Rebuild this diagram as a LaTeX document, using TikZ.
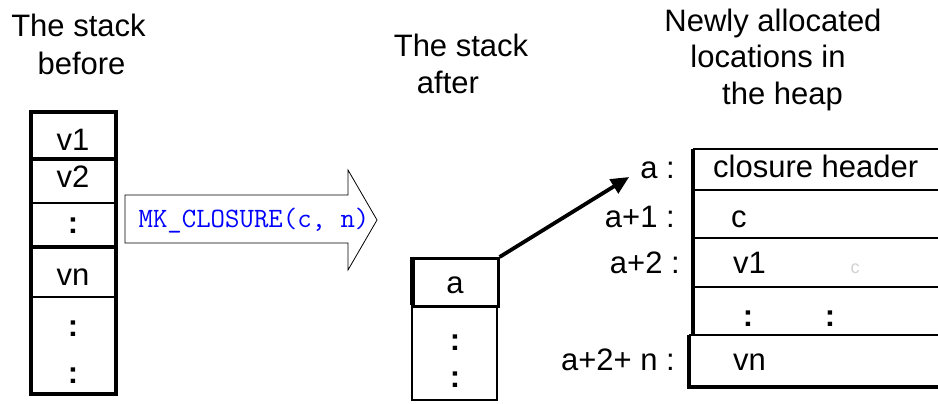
\documentclass[tikz,border=0pt]{standalone}
\usepackage{fontspec}
\setmainfont{Liberation Sans}
\usetikzlibrary{arrows.meta,calc}
\begin{document}
\begin{tikzpicture}[x=1pt,y=-1pt,
  txt/.style={inner sep=0pt,font=\fontsize{31}{37}\selectfont},
  dots/.style={inner sep=0pt,font=\bfseries\fontsize{31}{37}\selectfont},
  thick line/.style={line width=3.4pt},
  mid line/.style={line width=2.6pt},
  arr/.style={line width=3.8pt,-{Triangle[length=18pt,width=16pt]}},
  callout/.style={draw=black,line width=0.8pt,fill=white},
  macro/.style={inner sep=0pt,text=blue,font=\ttfamily\fontsize{28}{32}\selectfont}]
\useasboundingbox (0,0) rectangle (938,404);
% titles
\node[txt,anchor=base] (t1a) at (78.5,37) {The stack};
\node[txt,anchor=base] (t1b) at (81.5,75) {before};
\node[txt,anchor=base] (t2a) at (461,57) {The stack};
\node[txt,anchor=base] (t2b) at (448,93) {after};
\node[txt,anchor=base] (t3a) at (773,32) {Newly allocated};
\node[txt,anchor=base] (t3b) at (768,68) {locations in};
\node[txt,anchor=base] (t3c) at (782.5,104) {the heap};
% stack before
\draw[thick line] (31,159) -- (116,159);
\draw[mid line] (31,203) -- (116,203);
\draw[thick line] (31,247) -- (116,247);
\draw[mid line] (31,297) -- (116,297);
\draw[thick line] (31,112) rectangle (116,394);
\node[txt,anchor=base] (s1) at (73,150) {v1};
\node[txt,anchor=base] (s2) at (73,187) {v2};
\node[dots,anchor=base] (s3) at (73,233) {:};
\node[txt,anchor=base] (s4) at (73,285) {vn};
\node[dots,anchor=base] (s5) at (73,336) {:};
\node[dots,anchor=base] (s6) at (73,383) {:};
% big arrow
\draw[callout] (125,195) -- (348,195) -- (348,170) -- (377,220) -- (348,270) -- (348,243) -- (125,243) -- cycle;
\node[macro,anchor=base] (mk) at (254,227) {MK\_CLOSURE(c, n)};
% stack after
\node[draw,mid line,minimum width=85pt,minimum height=48pt,anchor=north west,inner sep=0pt] (acell) at (412,257) {};
\draw[mid line] (412,305) -- (412,400) -- (497,400) -- (497,305);
\draw[thick line] (412,257) -- (412,305);
\node[txt,anchor=base] (av) at (455,293) {a};
\node[dots,anchor=base] (ad1) at (455,350) {:};
\node[dots,anchor=base] (ad2) at (455,387) {:};
% heap
\draw[mid line] (693,149) -- (945,149);
\draw[mid line] (693,190) -- (945,190);
\draw[mid line] (693,238) -- (945,238);
\draw[mid line] (693,287) -- (945,287);
\draw[mid line] (689,335) -- (945,335);
\draw[thick line] (693,149) -- (693,335);
\draw[thick line] (689,335) -- (689,387) -- (945,387);
\node[txt,anchor=base west] (h1) at (713,177) {closure header};
\node[txt,anchor=base west] (h2) at (731,227) {c};
\node[txt,anchor=base west] (h3) at (733,273) {v1};
\node[dots,anchor=base] (h4a) at (748,326) {:};
\node[dots,anchor=base] (h4b) at (830,326) {:};
\node[txt,anchor=base west] (h5) at (733,370) {vn};
\node[inner sep=0pt,anchor=base,text=black!18,font=\fontsize{18}{20}\selectfont] (ghost) at (855,273) {c};
% address labels
\node[txt,anchor=base east] (l1) at (675,178) {a :};
\node[txt,anchor=base east] (l2) at (675,227) {a+1 :};
\node[txt,anchor=base east] (l3) at (680,273) {a+2 :};
\node[txt,anchor=base east] (l4) at (675,370) {a+2+ n :};
% pointer
\coordinate (tip) at ($(l1.base west)+(-11,-1)$);
\draw[arr] (acell.north east) -- (tip);
\end{tikzpicture}
\end{document}
